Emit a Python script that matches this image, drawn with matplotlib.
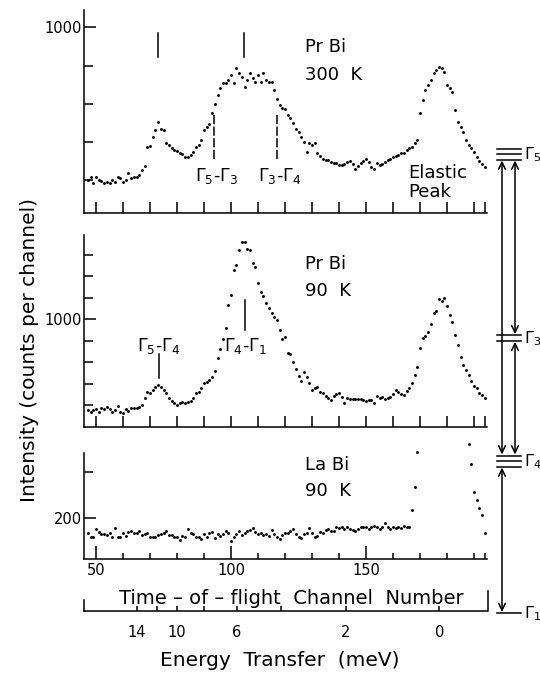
import numpy as np
import matplotlib
matplotlib.use("Agg")
import matplotlib.pyplot as plt
from matplotlib.patches import FancyArrowPatch
from matplotlib.transforms import blended_transform_factory

plt.rcParams['font.family'] = ['DejaVu Sans']
plt.rcParams['mathtext.fontset'] = 'dejavusans'

nan = np.nan

# time-of-flight channels, one point per channel
channels = np.arange(47, 195)

# PrBi 300 K (counts per channel)
prbi_300k = [
    599, 607, 592, 606, 599, 597, 592, 594, 590, 599,
    594, 607, 603, 594, 599, 616, 603, 607, 606, 612,
    625, 636, 686, 688, 713, 730, 752, 732, 730, 697,
    690, 682, 678, 676, 671, 668, 660, 658, 665, 673,
    685, 691, 704, 730, 739, 745, 774, 800, 822, 840,
    853, 855, 862, 875, 853, 893, 881, 870, 844, 862,
    879, 866, 857, 875, 857, 879, 862, 857, 857, 835,
    811, 795, 787, 785, 770, 761, 750, 732, 726, 713,
    700, 673, 695, 690, 697, 669, 662, 653, 651, 651,
    647, 644, 643, 638, 638, 641, 647, 650, 640, 629,
    636, 643, 650, 654, 645, 634, 629, 643, 638, 640,
    647, 651, 653, 660, 662, 664, 669, 671, 678, 683,
    685, 696, 704, 774, 809, 835, 849, 862, 879, 888,
    897, 893, 884, 849, 840, 831, 783, 752, 739, 726,
    704, 691, 682, 673, 660, 648, 640, 632,
]

# PrBi 90 K
prbi_90k = [
    577, 569, 577, 580, 569, 585, 580, 592, 580, 569,
    577, 595, 569, 564, 580, 574, 585, 585, 585, 592,
    600, 631, 662, 658, 670, 686, 693, 686, 670, 655,
    631, 620, 611, 600, 608, 616, 611, 616, 620, 631,
    655, 662, 678, 701, 709, 717, 732, 760, 818, 860,
    910, 958, 1067, 1113, 1230, 1253, 1323, 1362, 1362, 1327,
    1323, 1264, 1246, 1171, 1129, 1109, 1078, 1051, 1028, 1012,
    997, 950, 907, 919, 841, 838, 802, 767, 735, 714,
    756, 730, 701, 670, 678, 686, 662, 655, 642, 631,
    623, 642, 651, 655, 639, 611, 631, 627, 627, 627,
    627, 627, 623, 620, 623, 623, 608, 642, 631, 636,
    627, 631, 639, 650, 670, 662, 651, 647, 667, 680,
    704, 740, 779, 865, 911, 922, 942, 978, 1028, 1040,
    1093, 1087, 1098, 1060, 1020, 989, 927, 880, 826, 787,
    763, 740, 714, 689, 678, 658, 647, 635,
]

# LaBi 90 K (elastic peak runs off scale)
labi_90k = [
    167, 158, 158, 174, 169, 164, 164, 162, 166, 157,
    177, 158, 158, 166, 160, 169, 171, 166, 167, 171,
    162, 164, 166, 158, 157, 157, 162, 164, 166, 171,
    162, 162, 158, 157, 151, 160, 157, 174, 166, 164,
    158, 157, 152, 164, 158, 166, 169, 155, 164, 160,
    164, 171, 167, 149, 157, 164, 171, 162, 166, 171,
    173, 177, 169, 164, 167, 162, 164, 160, 173, 164,
    158, 152, 162, 166, 167, 171, 174, 164, 158, 155,
    164, 167, 177, 167, 157, 160, 169, 166, 173, 174,
    171, 171, 179, 177, 179, 174, 179, 174, 173, 171,
    174, 179, 179, 179, 174, 179, 182, 179, 174, 179,
    188, 179, 174, 179, 176, 180, 178, 181, 179, 180,
    217, 267, 345, nan, nan, nan, nan, nan, nan, nan,
    nan, nan, nan, nan, nan, nan, nan, nan, nan, nan,
    nan, 362, 318, 257, 239, 221, 205, 167,
]

channel_ticks = list(range(50, 191, 10)) + [194]
channel_labels = [50, 100, 150]

energy_meV = [14, 12, 10, 8, 6, 4, 2, 0]
energy_channel = [65.1, 72.5, 79.9, 90.0, 102.1, 118.5, 142.5, 177.2]
energy_labelled = [14, 10, 6, 2, 0]

levels = ['Γ$_5$', 'Γ$_3$', 'Γ$_4$', 'Γ$_1$']
degeneracy = [3, 2, 3, 1]

W, H = 540, 673
fig = plt.figure(figsize=(W / 100, H / 100), dpi=100)


def fx(px):
    return px / W


def fy(py):
    return 1 - py / H


def panel(top, bottom):
    return fig.add_axes([fx(84.4), fy(bottom), fx(487.5) - fx(84.4), (bottom - top) / H])


XLIM = (45.7, 195)
LW = 1.1


def style(ax, ylim, major, minor, long_xticks=None):
    ax.set_xlim(*XLIM)
    ax.set_ylim(*ylim)
    for s in ['top', 'right']:
        ax.spines[s].set_visible(False)
    for s in ['left', 'bottom']:
        ax.spines[s].set_linewidth(LW)
    ax.set_yticks(major)
    ax.set_yticklabels([str(v) for v in major])
    ax.set_yticks(minor, minor=True)
    ax.tick_params(axis='y', which='major', direction='in', length=8.5, width=LW,
                   pad=2, labelsize=10.5)
    ax.tick_params(axis='y', which='minor', direction='in', length=6.2, width=LW)
    if long_xticks is None:
        ax.set_xticks(channel_ticks)
        ax.set_xticklabels([])
        ax.tick_params(axis='x', which='major', direction='in', length=8, width=LW)
    else:
        ax.set_xticks(long_xticks)
        ax.set_xticklabels([str(v) for v in long_xticks])
        ax.set_xticks([c for c in channel_ticks if c not in long_xticks], minor=True)
        ax.tick_params(axis='x', which='major', direction='in', length=9.4, width=LW,
                       pad=2.5, labelsize=10.5)
        ax.tick_params(axis='x', which='minor', direction='in', length=4.3, width=LW)


dot = dict(ls='none', marker='o', ms=2.1, color='black', mec='none')

# --- PrBi 300 K
ax1 = panel(10, 213)
style(ax1, (512, 1046), [1000], [600, 700, 800, 900])
ax1.plot(channels, prbi_300k, clip_on=False, **dot)
tr1 = blended_transform_factory(ax1.transData, ax1.transAxes)
for ch in [73.1, 104.9]:
    ax1.plot([ch, ch], [0.768, 0.887], transform=tr1, color='black', lw=LW)
for ch, lab in [(93.7, 'Γ$_5$-Γ$_3$'), (117.2, 'Γ$_3$-Γ$_4$')]:
    ax1.plot([ch, ch], [0.265, 0.488], transform=tr1, color='black', lw=LW,
             ls=(0, (6, 1.6)))
    ax1.text(ch + 0.8, 0.18, lab, transform=tr1, ha='center', va='center', fontsize=12.5)
ax1.text(165.6, 0.195, 'Elastic', transform=tr1, ha='left', va='center', fontsize=13)
ax1.text(165.6, 0.102, 'Peak', transform=tr1, ha='left', va='center', fontsize=13)
fig.text(fx(305), fy(47), 'Pr Bi', fontsize=13, va='center')
fig.text(fx(305), fy(75), '300  K', fontsize=13, va='center')

# --- PrBi 90 K
ax2 = panel(235, 427.3)
style(ax2, (496, 1393), [1000], [600, 700, 800, 900, 1100, 1200, 1300])
ax2.plot(channels, prbi_90k, clip_on=False, **dot)
tr2 = blended_transform_factory(ax2.transData, ax2.transAxes)
for ch, lab, (y0, y1) in [(73.3, 'Γ$_5$-Γ$_4$', (0.256, 0.381)),
                          (105.2, 'Γ$_4$-Γ$_1$', (0.506, 0.662))]:
    ax2.plot([ch, ch], [y0, y1], transform=tr2, color='black', lw=LW)
    ax2.text(ch, 0.423, lab, transform=tr2, ha='center', va='center', fontsize=12.5)
fig.text(fx(305), fy(264.5), 'Pr Bi', fontsize=13, va='center')
fig.text(fx(305), fy(291.5), '90  K', fontsize=13, va='center')

# --- LaBi 90 K
ax3 = panel(453.3, 559.3)
style(ax3, (108, 342), [200], [300], long_xticks=channel_labels)
ax3.plot(channels, labi_90k, clip_on=False, **dot)
fig.text(fx(305), fy(465.5), 'La Bi', fontsize=13, va='center')
fig.text(fx(305), fy(490.5), '90  K', fontsize=13, va='center')

fig.text(fx(291), fy(598), 'Time – of – flight  Channel  Number', fontsize=14,
         ha='center', va='center')

# --- energy transfer scale
axe = fig.add_axes([fx(84.4), fy(611), fx(487.5) - fx(84.4), 20 / H])
axe.set_xlim(*XLIM)
axe.set_ylim(0, 1)
axe.patch.set_visible(False)
for s in ['top', 'right', 'left']:
    axe.spines[s].set_visible(False)
axe.spines['bottom'].set_linewidth(LW)
axe.set_yticks([])
axe.set_xticks(energy_channel)
axe.set_xticklabels([str(e) if e in energy_labelled else '' for e in energy_meV])
axe.tick_params(axis='x', direction='in', length=3.3, width=LW, pad=10, labelsize=10.5)
axe.plot([0, 0], [0, 0.55], transform=axe.transAxes, color='black', lw=LW, clip_on=False)
axe.plot([1, 1], [0, 1.0], transform=axe.transAxes, color='black', lw=LW, clip_on=False)
fig.text(fx(280), fy(661), 'Energy  Transfer  (meV)', fontsize=14.5, ha='center', va='center')

fig.text(fx(30), fy(350), 'Intensity (counts per channel)', fontsize=14.5, rotation=90,
         ha='center', va='center')

# --- crystal-field level scheme
axl = fig.add_axes([0, 0, 1, 1])
axl.set_xlim(0, W)
axl.set_ylim(H, 0)
axl.axis('off')
level_y = [154, 338, 461, 613]
gap = 5.5
edges = []
for name, n, yc in zip(levels, degeneracy, level_y):
    ys = [yc + (i - (n - 1) / 2) * gap for i in range(n)]
    for y in ys:
        axl.plot([497, 521], [y, y], color='black', lw=LW)
    edges.append((min(ys), max(ys)))
    axl.text(523.5, yc + 1, name, fontsize=11.5, ha='left', va='center')

arrow_x = {'left': 502, 'right': 515}
transitions = [(0, 2, 'left'), (0, 1, 'right'), (1, 2, 'right'), (2, 3, 'left')]
for a, b, side in transitions:
    x = arrow_x[side]
    arr = FancyArrowPatch((x, edges[a][1] + 1), (x, edges[b][0] - 1),
                          arrowstyle='<->,head_length=5,head_width=2.4',
                          mutation_scale=1, lw=LW, color='black',
                          shrinkA=0, shrinkB=0)
    axl.add_patch(arr)

fig.savefig('out.png', dpi=100)
